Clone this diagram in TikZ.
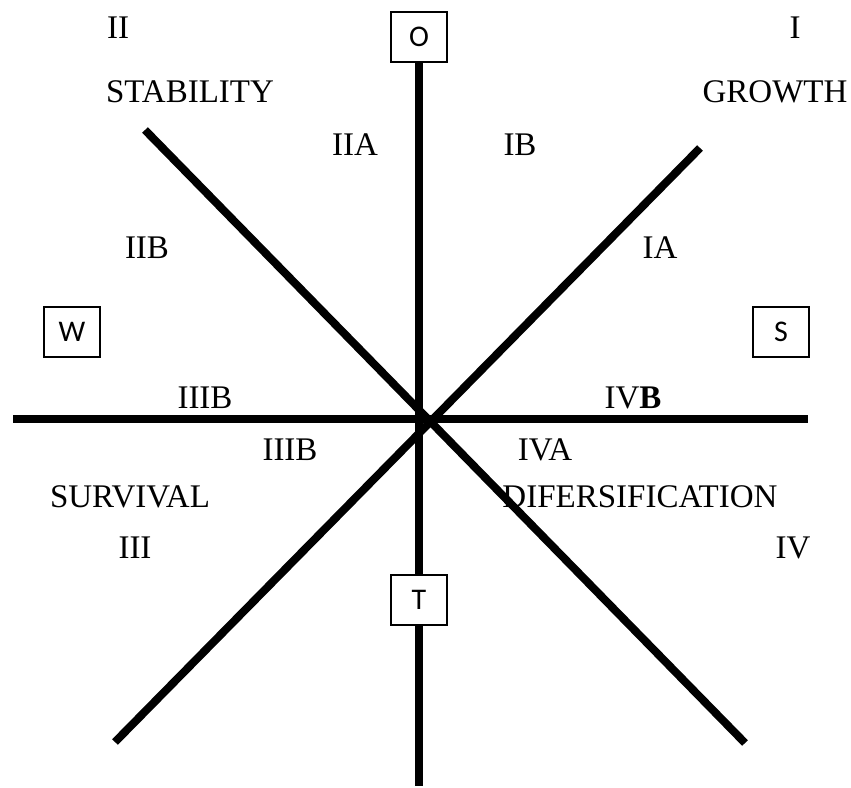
\documentclass[tikz,border=0pt]{standalone}
\usepackage{fontspec}
\setmainfont{Liberation Serif}
\newfontfamily\boxfont{Carlito}

\begin{document}
\begin{tikzpicture}[x=1pt,y=-1pt,
		axis/.style={line width=8pt},
		lbl/.style={font=\fontsize{33}{38}\selectfont},
		letter/.style={draw, line width=1.5pt, fill=white, minimum width=56pt, minimum height=50pt, font=\boxfont\fontsize{30}{34}\selectfont}]
		\useasboundingbox (0,0) rectangle (851,787);
		% ends of the axes
		\coordinate(wend) at (13,419);
		\coordinate(send) at (808,419);
		\coordinate(tend) at (419,786);
		\coordinate(nw) at (145,130);
		\coordinate(se) at (745,743);
		\coordinate(ne) at (700,148);
		\coordinate(sw) at (115,742);
		
		\node[letter](O) at (419,37) {O};
		\draw[axis] (wend) -- (send);
		\draw[axis] (nw) -- (se);
		\draw[axis] (ne) -- (sw);
		\draw[axis] (O) -- (tend);
		\node[letter](T) at (419,600) {T};
		\node[letter](W) at (72,332) {W};
		\node[letter](S) at (781,332) {S};
		
		% quadrants
		\node[lbl](II) at (118,28) {II};
		\node[lbl](I) at (795,28) {I};
		\node[lbl](STABILITY) at (190,92) {STABILITY};
		\node[lbl](GROWTH) at (775,92) {GROWTH};
		\node[lbl](SURVIVAL) at (130,497) {SURVIVAL};
		\node[lbl](DIFERSIFICATION) at (640,497) {DIFERSIFICATION};
		\node[lbl](III) at (135,548) {III};
		\node[lbl](IV) at (793,548) {IV};
		
		% sectors
		\node[lbl](IIA) at (355,145) {IIA};
		\node[lbl](IB) at (520,145) {IB};
		\node[lbl](IIB) at (147,248) {IIB};
		\node[lbl](IA) at (660,248) {IA};
		\node[lbl](IIIBa) at (205,398) {IIIB};
		\node[lbl](IVB) at (633,398) {IV\textbf{B}};
		\node[lbl](IIIBb) at (290,450) {IIIB};
		\node[lbl](IVA) at (545,450) {IVA};
	\end{tikzpicture}
\end{document}
